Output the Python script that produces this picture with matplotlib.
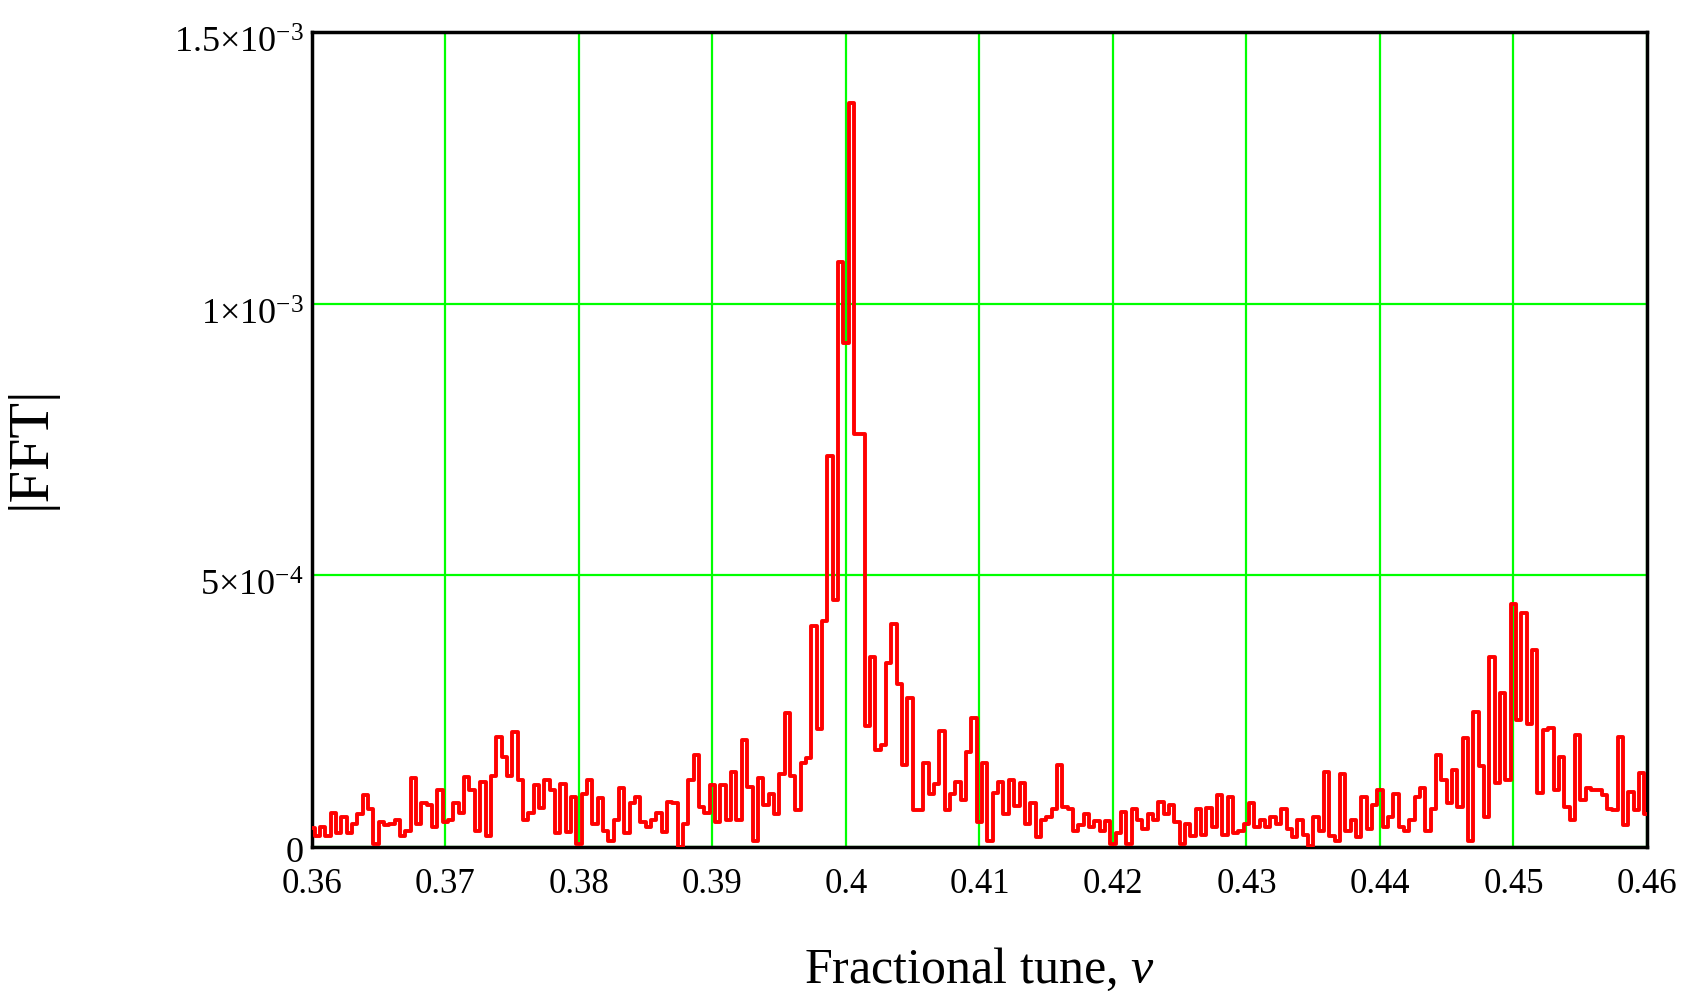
import numpy as np
import matplotlib
matplotlib.use("Agg")
import matplotlib.pyplot as plt
import matplotlib.transforms as mtransforms

fft_e4 = [
    0.35, 0.2, 0.37, 0.2, 0.62, 0.25, 0.55, 0.25, 0.42, 0.6,
    0.96, 0.7, 0.05, 0.45, 0.4, 0.42, 0.5, 0.2, 0.3, 1.27,
    0.42, 0.8, 0.78, 0.37, 1.05, 0.45, 0.5, 0.8, 0.62, 1.29,
    1.05, 0.3, 1.2, 0.2, 1.3, 2.02, 1.66, 1.3, 2.12, 1.24,
    0.5,
    0.62, 1.14, 0.72, 1.23, 1.05, 0.25, 1.15, 0.28, 0.92, 0.05,
    0.98, 1.23, 0.42, 0.9, 0.3, 0.1, 0.5, 1.08, 0.25, 0.8,
    0.92, 0.45, 0.37, 0.5, 0.62, 0.28, 0.83, 0.8, 0.0, 0.42,
    1.23, 1.69, 0.73, 0.62, 1.14, 0.45, 1.14, 0.5, 1.38, 0.5,
    1.97,
    1.1, 0.1, 1.26, 0.77, 0.97, 0.6, 1.35, 2.46, 1.3, 0.68,
    1.55, 1.64, 4.06, 2.17, 4.15, 7.2, 4.54, 10.77, 9.28, 13.7,
    7.6, 7.6, 2.22, 3.5, 1.79, 1.88, 3.38, 4.1, 3.0, 1.5,
    2.75, 0.68, 0.68, 1.55, 0.97, 1.16, 2.13, 0.68, 0.97, 1.2,
    0.87, 1.74, 2.37, 0.45,
    1.55, 0.1, 1.0, 1.2, 0.6, 1.23, 0.75, 1.17, 0.42, 0.8,
    0.18, 0.5, 0.55, 0.7, 1.5, 0.73, 0.7, 0.3, 0.4, 0.6,
    0.37, 0.47, 0.3, 0.47, 0.05, 0.25, 0.65, 0.05, 0.7, 0.5,
    0.33, 0.6, 0.5, 0.83, 0.6, 0.78, 0.45,
    0.05, 0.42, 0.2, 0.7, 0.22, 0.72, 0.37, 0.96, 0.22, 0.92,
    0.25, 0.3, 0.42, 0.8, 0.37, 0.5, 0.37, 0.55, 0.42, 0.7,
    0.33, 0.18, 0.5, 0.22, 0.02, 0.55, 0.3, 1.38, 0.2, 0.1,
    1.35, 0.3, 0.5, 0.18, 0.92, 0.33, 0.78, 1.05, 0.37, 0.55,
    0.98, 0.37, 0.3, 0.5, 0.92, 1.08, 0.3, 0.7, 1.7, 1.23,
    0.8, 1.42, 0.74, 2.0, 0.1, 2.49, 1.48, 0.55, 3.5, 1.17,
    2.83, 1.23, 4.48, 2.33, 4.3, 2.27, 3.63, 1.0, 2.15, 2.18,
    1.04, 1.66, 0.74, 0.5, 2.06, 0.86, 1.08, 1.04, 1.04, 0.95,
    0.7, 0.67, 2.03, 0.4, 1.01, 0.67, 1.36, 0.61,
]
tune_start, tune_stop = 0.36, 0.46

xticks = [0.36, 0.37, 0.38, 0.39, 0.40, 0.41, 0.42, 0.43, 0.44, 0.45, 0.46]
xtick_labels = ["0.36", "0.37", "0.38", "0.39", "0.4", "0.41", "0.42",
                "0.43", "0.44", "0.45", "0.46"]
yticks = [0, 5e-4, 1e-3, 1.5e-3]
ytick_labels = ["0", r"$5{\times}10^{-4}$", r"$1{\times}10^{-3}$",
                r"$1.5{\times}10^{-3}$"]

fft = np.array(fft_e4) * 1e-4
tune = np.linspace(tune_start, tune_stop, len(fft))

plt.rcParams["font.family"] = ["Liberation Serif", "DejaVu Serif"]
plt.rcParams["mathtext.fontset"] = "custom"
plt.rcParams["mathtext.rm"] = "Liberation Serif"
plt.rcParams["mathtext.it"] = "Liberation Serif:italic"

fig = plt.figure(figsize=(17, 9.94), dpi=100)
ax = fig.add_axes([0.1835, 0.148, 0.7853, 0.8197])

ax.plot(tune, fft, color="#ff0000", lw=2.8, drawstyle="steps-mid", zorder=3)

ax.set_xlim(tune_start, tune_stop)
ax.set_ylim(0, 1.5e-3)
ax.set_xticks(xticks)
ax.set_xticklabels(xtick_labels)
ax.set_yticks(yticks)
ax.set_yticklabels(ytick_labels)
ax.tick_params(axis="x", length=0, labelsize=25, pad=15)
ax.tick_params(axis="y", length=0, labelsize=26, pad=6)
# nudge y labels a bit lower, like the original layout
for lab in ax.get_yticklabels():
    dy = -2 if lab.get_text() == "0" else -6
    shift = mtransforms.ScaledTranslation(0, dy / 72, fig.dpi_scale_trans)
    lab.set_transform(lab.get_transform() + shift)
ax.grid(True, color="#00ff00", lw=1.6, zorder=1)
for s in ax.spines.values():
    s.set_linewidth(2.5)
    s.set_color("black")

fig.text(0.576, 0.024, r"Fractional tune, $\nu$", ha="center", va="center",
         fontsize=36)
fig.text(0.018, 0.55, "|FFT|", rotation=90, ha="center", va="center",
         fontsize=42)

fig.savefig("out.png", dpi=100)
